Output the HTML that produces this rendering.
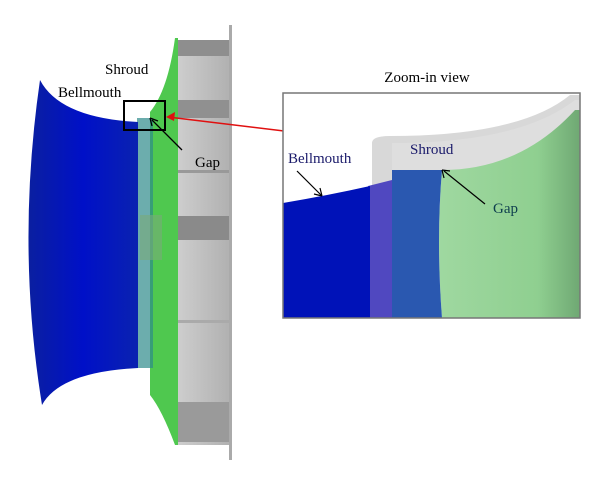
<!DOCTYPE html>
<html><head><meta charset="utf-8"><style>
html,body{margin:0;padding:0;background:#fff;width:600px;height:481px;overflow:hidden}
svg{display:block}
text{font-family:"Liberation Serif",serif}
</style></head><body>
<svg width="600" height="481" viewBox="0 0 600 481">
<defs>
<linearGradient id="bm" x1="0" x2="1" y1="0" y2="0"><stop offset="0" stop-color="#0a1fa0"/><stop offset="0.5" stop-color="#0010c8"/><stop offset="1" stop-color="#0a22b0"/></linearGradient>
<linearGradient id="gr" x1="0" x2="1"><stop offset="0" stop-color="#cfcfcf"/><stop offset="1" stop-color="#b0b0b0"/></linearGradient>
<linearGradient id="gz" x1="0" x2="1"><stop offset="0" stop-color="#9fd8a0"/><stop offset="0.7" stop-color="#8fcf90"/><stop offset="1" stop-color="#6fa873"/></linearGradient>
</defs>
<g>
<rect x="175" y="40" width="56" height="405" fill="url(#gr)"/>
<rect x="175" y="40" width="56" height="16" fill="#8e8e8e"/>
<rect x="175" y="100" width="56" height="18" fill="#909090"/>
<rect x="175" y="170" width="56" height="3" fill="#999"/>
<rect x="175" y="216" width="56" height="24" fill="#8a8a8a"/>
<rect x="175" y="320" width="56" height="3" fill="#aaa"/>
<rect x="175" y="402" width="56" height="40" fill="#9a9a9a"/>
<rect x="229" y="25" width="3" height="435" fill="#aaa"/>
</g>
<path d="M150,112 Q168,90 175,38 L178,38 L178,445 L175,445 Q162,410 150,395 Z" fill="#4fc84f"/>
<rect x="137" y="118" width="16" height="250" fill="#2e8a8a" opacity="0.7"/>
<rect x="140" y="215" width="22" height="45" fill="#7aaa7a" opacity="0.6"/>
<path d="M40,80 Q60,118 138,122 L138,368 Q60,372 42,405 Q16,245 40,80 Z" fill="url(#bm)"/>
<rect x="124" y="101" width="41" height="29" fill="none" stroke="#000" stroke-width="2"/>
<text x="105" y="74" font-size="15">Shroud</text>
<text x="58" y="97" font-size="15">Bellmouth</text>
<text x="195" y="167" font-size="15">Gap</text>
<line x1="182" y1="150" x2="152" y2="120" stroke="#000" stroke-width="1.3"/>
<path d="M150,118 L158,121 M150,118 L152,126" stroke="#000" stroke-width="1.3" fill="none"/>
<line x1="284" y1="131" x2="168" y2="117" stroke="#e01010" stroke-width="1.5"/>
<path d="M166,117 L175,112 L174,121 Z" fill="#e01010"/>
<g>
<rect x="283" y="93" width="297" height="225" fill="#fff"/>
<path d="M372,185 L372,143 Q372,136 390,136 Q520,136 570,95 L580,95 L580,318 L442,318 L442,170 Z" fill="#d8d8d8"/>
<path d="M442,170 L392,170 L392,143 Q520,143 575,100 L580,100 L580,318 L442,318 Z" fill="#dedede"/>
<path d="M442,170 Q520,170 575,110 L580,110 L580,318 L442,318 Q436,240 442,170 Z" fill="url(#gz)"/>
<path d="M392,170 L442,170 Q436,240 442,318 L392,318 Z" fill="#2a58b0"/>
<path d="M368,186 L392,180 L392,318 L368,318 Z" fill="#5048c0"/>
<path d="M283,203 Q330,195 370,186 L370,318 L283,318 Z" fill="#0012b8"/>
<rect x="283" y="93" width="297" height="225" fill="none" stroke="#777" stroke-width="1.5"/>
</g>
<text x="427" y="82" font-size="15" text-anchor="middle">Zoom-in view</text>
<text x="288" y="163" font-size="15" fill="#1a1a6a">Bellmouth</text>
<text x="410" y="154" font-size="15" fill="#1a1a6a">Shroud</text>
<text x="493" y="213" font-size="15" fill="#0e3e4e">Gap</text>
<line x1="297" y1="171" x2="321" y2="195" stroke="#000" stroke-width="1.2"/>
<path d="M322,196 L314,194 M322,196 L320,188" stroke="#000" stroke-width="1.2" fill="none"/>
<line x1="485" y1="204" x2="444" y2="171" stroke="#000" stroke-width="1.2"/>
<path d="M442,170 L450,171 M442,170 L444,178" stroke="#000" stroke-width="1.2" fill="none"/>
</svg>
</body></html>
